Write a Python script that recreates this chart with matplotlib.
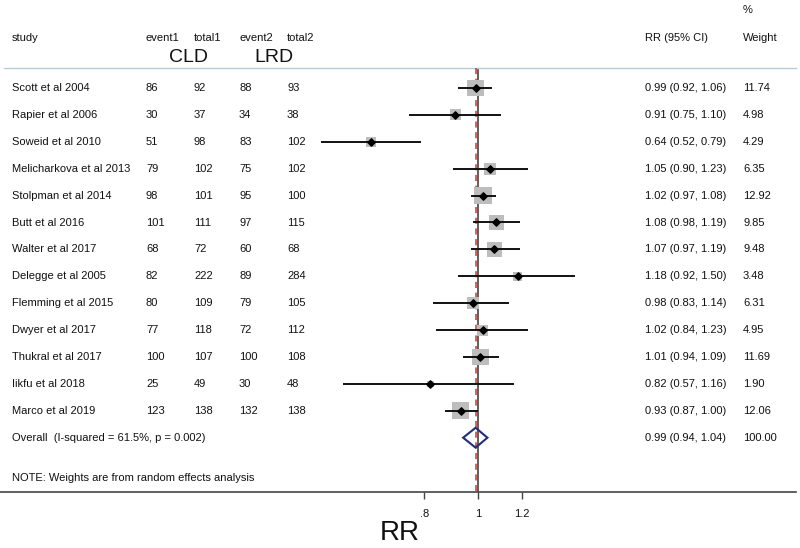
import numpy as np
import matplotlib
matplotlib.use("Agg")
import matplotlib.pyplot as plt
import matplotlib.transforms as mtransforms
from matplotlib.patches import Polygon

plt.rcParams['font.family'] = ['Liberation Sans', 'DejaVu Sans']

studies = ["Scott et al 2004", "Rapier et al 2006", "Soweid et al 2010",
           "Melicharkova et al 2013", "Stolpman et al 2014", "Butt et al 2016",
           "Walter et al 2017", "Delegge et al 2005", "Flemming et al 2015",
           "Dwyer et al 2017", "Thukral et al 2017", "Iikfu et al 2018",
           "Marco et al 2019"]
event1 = [86, 30, 51, 79, 98, 101, 68, 82, 80, 77, 100, 25, 123]
total1 = [92, 37, 98, 102, 101, 111, 72, 222, 109, 118, 107, 49, 138]
event2 = [88, 34, 83, 75, 95, 97, 60, 89, 79, 72, 100, 30, 132]
total2 = [93, 38, 102, 102, 100, 115, 68, 284, 105, 112, 108, 48, 138]
rr = [0.99, 0.91, 0.64, 1.05, 1.02, 1.08, 1.07, 1.18, 0.98, 1.02, 1.01, 0.82, 0.93]
lo = [0.92, 0.75, 0.52, 0.90, 0.97, 0.98, 0.97, 0.92, 0.83, 0.84, 0.94, 0.57, 0.87]
hi = [1.06, 1.10, 0.79, 1.23, 1.08, 1.19, 1.19, 1.50, 1.14, 1.23, 1.09, 1.16, 1.00]
weight = [11.74, 4.98, 4.29, 6.35, 12.92, 9.85, 9.48, 3.48, 6.31, 4.95, 11.69, 1.90, 12.06]
overall_label = "Overall  (I-squared = 61.5%, p = 0.002)"
overall = (0.99, 0.94, 1.04, 100.00)
xticks = [0.8, 1.0, 1.2]
xticklabels = [".8", "1", "1.2"]

W, H = 800, 548
fig = plt.figure(figsize=(W / 100, H / 100), dpi=100)
ax = fig.add_axes([0, 0, 1, 1])
ax.set_xscale('log')
# pixel = 478 + 240*ln(x)
ax.set_xlim(np.exp(-478 / 240), np.exp((W - 478) / 240))
row_h = 26.9
top_px = 88
ax.set_ylim((H - top_px) / row_h, -top_px / row_h)

def ypix(p):
    return (p - top_px) / row_h

tr = mtransforms.blended_transform_factory(ax.transAxes, ax.transData)
def xf(p):
    return p / W

txt_col = '#111111'
fs = 8
n = len(studies)
ys = np.arange(n)
y_over = n
axis_y = ypix(492)
head_line_y = ypix(68)
x_rr, x_w = 645, 743

# header
ax.text(xf(12), ypix(38), "study", transform=tr, fontsize=fs, va='center', color=txt_col)
for xp, lab in [(146, "event1"), (194, "total1"), (239, "event2"), (287, "total2"),
                (x_rr, "RR (95% CI)"), (x_w, "Weight")]:
    ax.text(xf(xp), ypix(38), lab, transform=tr, fontsize=fs, va='center', color=txt_col)
ax.text(xf(x_w), ypix(10), "%", transform=tr, fontsize=fs, va='center', color=txt_col)
ax.text(xf(188), ypix(57), "CLD", transform=tr, fontsize=14, va='center', ha='center', color=txt_col)
ax.text(xf(274), ypix(57), "LRD", transform=tr, fontsize=14, va='center', ha='center', color=txt_col)
ax.plot([xf(4), xf(796)], [head_line_y, head_line_y], transform=tr, color='#b8ccd8', lw=1)

# rows
for i in range(n):
    y = ys[i]
    ax.text(xf(12), y, studies[i], transform=tr, fontsize=fs, va='center', color=txt_col)
    for xp, v in [(146, event1[i]), (194, total1[i]), (239, event2[i]), (287, total2[i])]:
        ax.text(xf(xp), y, str(v), transform=tr, fontsize=fs, va='center', color=txt_col)
    ax.text(xf(x_rr), y, f"{rr[i]:.2f} ({lo[i]:.2f}, {hi[i]:.2f})", transform=tr,
            fontsize=fs, va='center', color=txt_col)
    ax.text(xf(x_w), y, f"{weight[i]:.2f}", transform=tr, fontsize=fs, va='center', color=txt_col)

ax.text(xf(12), y_over, overall_label, transform=tr, fontsize=fs, va='center', color=txt_col)
ax.text(xf(x_rr), y_over, f"{overall[0]:.2f} ({overall[1]:.2f}, {overall[2]:.2f})", transform=tr,
        fontsize=fs, va='center', color=txt_col)
ax.text(xf(x_w), y_over, f"{overall[3]:.2f}", transform=tr, fontsize=fs, va='center', color=txt_col)
ax.text(xf(12), ypix(478), "NOTE: Weights are from random effects analysis", transform=tr,
        fontsize=fs, va='center', color=txt_col)

# reference lines
ax.vlines(1.0, head_line_y, axis_y, color='#333333', lw=1.1, zorder=1)
ax.vlines(overall[0], head_line_y, axis_y, color='#c0392b', lw=1.1, linestyles=(0, (4, 3)), zorder=2)

# squares
side_px = 4.9 * np.sqrt(np.array(weight))
ax.scatter(rr, ys, marker='s', s=(side_px * 0.72) ** 2, color='#bdbdbd', edgecolors='none', zorder=3)
# CI lines
ax.hlines(ys, lo, hi, color='#111111', lw=1.4, zorder=4)
# point estimates
ax.scatter(rr, ys, marker='D', s=14, color='#000000', zorder=5)

# overall diamond
dh = 0.37
diamond = Polygon([(overall[1], y_over), (overall[0], y_over - dh), (overall[2], y_over),
                   (overall[0], y_over + dh)], closed=True, fill=False,
                  edgecolor='#1f2d7a', lw=1.5, zorder=6)
ax.add_patch(diamond)

# axis
for s in ['left', 'right', 'top']:
    ax.spines[s].set_visible(False)
ax.spines['bottom'].set_position(('data', axis_y))
ax.spines['bottom'].set_color('#444444')
ax.spines['bottom'].set_linewidth(1.2)
ax.spines['bottom'].set_bounds(np.exp(-478 / 240), np.exp((796 - 478) / 240))
ax.set_yticks([])
ax.xaxis.set_minor_locator(matplotlib.ticker.NullLocator())
ax.set_xticks(xticks)
ax.set_xticklabels(xticklabels)
ax.tick_params(axis='x', direction='out', length=5, width=1, color='#444444',
               labelsize=fs, labelcolor=txt_col, pad=7)
ax.set_xlabel("RR", fontsize=20, color=txt_col)
ax.xaxis.set_label_coords(400 / W, 1 - 533 / H)
ax.xaxis.label.set_va('center')
ax.patch.set_alpha(0)

fig.savefig("out.png", dpi=100, facecolor='white')
